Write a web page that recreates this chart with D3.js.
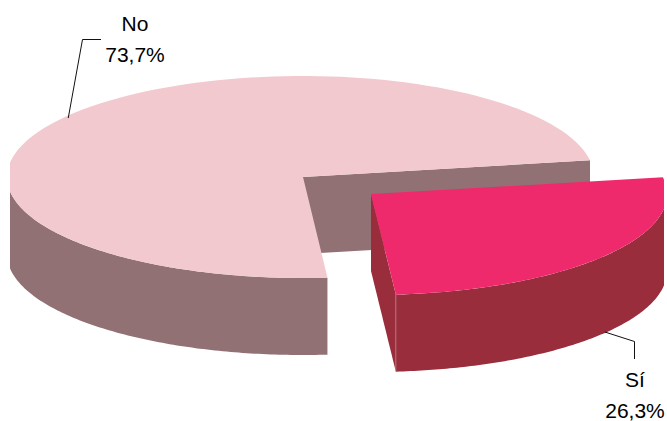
<!DOCTYPE html>
<html>
<head>
<meta charset="utf-8">
<script src="https://cdn.jsdelivr.net/npm/d3@7"></script>
<style>
html,body{margin:0;padding:0;background:#fff}
svg{display:block}
text{font-family:"Liberation Sans",Arial,sans-serif;font-size:21px;fill:#000;text-anchor:middle}
</style>
</head>
<body>
<svg id="c" width="667" height="421"></svg>
<script>
const categories = ["Sí", "No"];
const values = [26.3, 73.7];
const valueLabels = ["26,3%", "73,7%"];
const topColors = ["#EF2A6C", "#F2C9CE"];
const sideColors = ["#992D3C", "#927174"];

const W = 667, H = 421;
const ry = 101, depth = 77;
const centers = [{x: 371, y: 194, rxL: 296, rxR: 296}, {x: 303, y: 177, rxL: 296, rxR: 291}];
const startDeg = 80.5;
const rad = d => d * Math.PI / 180;

const svg = d3.select("#c");
svg.append("defs").append("clipPath").attr("id", "clip")
  .append("rect").attr("x", 10).attr("y", 0).attr("width", 654).attr("height", H);

const arcs = d3.pie().sort(null)
  .startAngle(rad(startDeg)).endAngle(rad(startDeg) + 2 * Math.PI)(values);

const pt = (c, a, dz = 0) => {
  const s = Math.sin(a);
  return [c.x + (s < 0 ? c.rxL : c.rxR) * s, c.y - ry * Math.cos(a) + dz];
};
const rim = (c, a0, a1, dz = 0) => d3.range(0, 121).map(i => pt(c, a0 + (a1 - a0) * i / 120, dz));
const line = d3.line();

const g = svg.append("g").attr("clip-path", "url(#clip)");

function drawSlice(i) {
  const d = arcs[i], c = centers[i];
  const center = [c.x, c.y], centerLow = [c.x, c.y + depth];
  const e = pt(c, d.endAngle), eLow = pt(c, d.endAngle, depth);
  // cut face running from the centre to the end of the slice
  g.append("path").attr("d", line([center, e, eLow, centerLow]) + "Z").attr("fill", sideColors[i]);
  // outer wall: only the part that faces the viewer
  const from = Math.max(d.startAngle, rad(90));
  const to = Math.min(d.endAngle, rad(270));
  g.append("path")
    .attr("d", line(rim(c, from, to).concat(rim(c, to, from, depth))) + "Z")
    .attr("fill", sideColors[i]);
  if (i === 0) {
    g.append("line")
      .attr("x1", e[0]).attr("y1", e[1]).attr("x2", eLow[0]).attr("y2", eLow[1])
      .attr("stroke", "#c08a92").attr("stroke-width", 0.7);
  }
  g.append("path")
    .attr("d", line([center].concat(rim(c, d.startAngle, d.endAngle))) + "Z")
    .attr("fill", topColors[i]);
}
drawSlice(1);
drawSlice(0);

// leaders start on the rim at each slice's middle angle
const mid = d => (d.startAngle + d.endAngle) / 2;
const a0 = pt(centers[0], mid(arcs[0]), depth);
const a1 = pt(centers[1], mid(arcs[1]));
const leader = (pts) => svg.append("path").attr("d", line(pts))
  .attr("fill", "none").attr("stroke", "#111").attr("stroke-width", 1);
leader([[a0[0], a0[1] - 1], [634.5, 341.5], [634.5, 359]]);
leader([[a1[0] - 1, a1[1] + 3], [82.5, 39.5], [101, 39.5]]);

const labelAt = [{x: 635, y1: 387, y2: 418}, {x: 135, y1: 31, y2: 62}];
categories.forEach((name, i) => {
  svg.append("text").attr("x", labelAt[i].x).attr("y", labelAt[i].y1).text(name);
  svg.append("text").attr("x", labelAt[i].x).attr("y", labelAt[i].y2).text(valueLabels[i]);
});
</script>
</body>
</html>
